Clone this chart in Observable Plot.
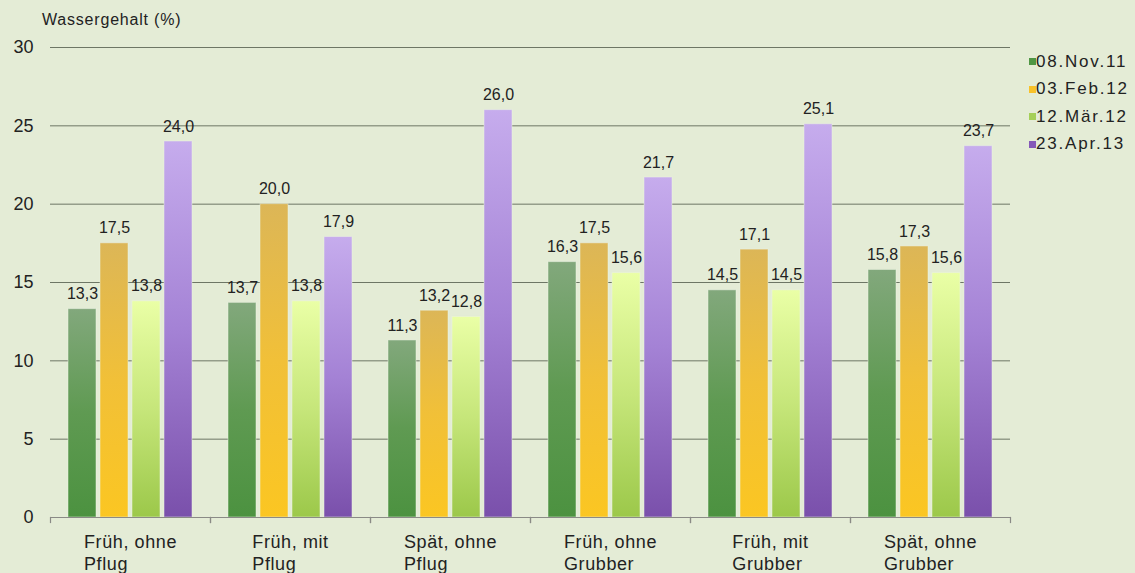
<!DOCTYPE html>
<html>
<head>
<meta charset="utf-8">
<script src="https://cdn.jsdelivr.net/npm/d3@7"></script>
<script src="https://cdn.jsdelivr.net/npm/@observablehq/plot@0.6"></script>
<style>
  html, body { margin: 0; padding: 0; background: #e4ecd6; }
  #wrap { position: relative; width: 1135px; height: 573px; background: #e4ecd6; font-family: "Liberation Sans", Arial, sans-serif; color: #222; overflow: hidden; }
  #title { position: absolute; left: 42px; top: 11px; font-size: 16px; letter-spacing: 0.8px; }
  #legend { position: absolute; left: 1029px; top: 48px; }
  .item { height: 27.5px; display: flex; align-items: center; font-size: 17px; letter-spacing: 1.8px; }
  .sw { width: 7px; height: 7px; margin-right: 0px; flex: none; }
  #chart { position: absolute; left: 0; top: 0; }
</style>
</head>
<body>
<div id="wrap">
  <div id="chart"></div>
  <div id="title">Wassergehalt (%)</div>
  <div id="legend"></div>
</div>
<script>
const groups = ["Früh, ohne\nPflug", "Früh, mit\nPflug", "Spät, ohne\nPflug", "Früh, ohne\nGrubber", "Früh, mit\nGrubber", "Spät, ohne\nGrubber"];
const series = ["08.Nov.11", "03.Feb.12", "12.Mär.12", "23.Apr.13"];
const nov11 = [13.3, 13.7, 11.3, 16.3, 14.5, 15.8];
const feb12 = [17.5, 20.0, 13.2, 17.5, 17.1, 17.3];
const mar12 = [13.8, 13.8, 12.8, 15.6, 14.5, 15.6];
const apr13 = [24.0, 17.9, 26.0, 21.7, 25.1, 23.7];
const yTicks = [0, 5, 10, 15, 20, 25, 30];

const legendColors = ["#4f9644", "#f8c22a", "#a5cf58", "#8558b8"];
const gradients = [
  ["#82a87c", "#5f9a52", "#4c9240"],
  ["#dcb657", "#f1c038", "#fbc622"],
  ["#eaffa6", "#c6e67a", "#9cc84a"],
  ["#c6aced", "#a482d5", "#7a50ab"]
];

const values = [nov11, feb12, mar12, apr13];
const data = [];
groups.forEach((g, gi) => series.forEach((s, si) => data.push({group: g, series: s, value: values[si][gi]})));

const fmt = v => v.toFixed(1).replace(".", ",");
const axisColor = "#8a8a86";

const chart = Plot.plot({
  width: 1135,
  height: 573,
  marginLeft: 50,
  marginRight: 125,
  marginTop: 47,
  marginBottom: 56,
  style: {background: "transparent", fontFamily: "'Liberation Sans', Arial, sans-serif", color: "#222", overflow: "visible"},
  fx: {domain: groups, padding: 0, label: null},
  x: {domain: series, paddingInner: 0.13, paddingOuter: 0.54, axis: null},
  y: {domain: [0, 30], label: null, axis: null},
  color: {domain: series, range: series.map((s, i) => `url(#grad${i})`)},
  marks: [
    Plot.ruleY(yTicks.filter(t => t > 0), {stroke: "#6d7665", strokeWidth: 1}),
    Plot.barY(data, {fx: "group", x: "series", y: "value", fill: "series", stroke: "#eef3e6", strokeOpacity: 0.5, strokeWidth: 1}),
    Plot.ruleY([0], {stroke: axisColor, strokeWidth: 1.2}),
    Plot.frame({anchor: "left", insetTop: 470, insetBottom: -5, stroke: axisColor, strokeWidth: 1.2}),
    Plot.frame({anchor: "right", insetTop: 470, insetBottom: -5, stroke: axisColor, strokeWidth: 1.2}),
    Plot.text(data, {fx: "group", x: "series", y: "value", text: d => fmt(d.value), dy: -15, fontSize: 16, fill: "#222"}),
    Plot.axisY({ticks: yTicks, tickSize: 0, tickPadding: 17, fontSize: 18, label: null, fill: "#222"}),
    Plot.axisFx({anchor: "bottom", tickSize: 0, tickPadding: 15, fontSize: 18, lineHeight: 1.22, label: null, fill: "#222"})
  ]
});

document.getElementById("chart").appendChild(chart);

// gradients
const svg = d3.select(chart.tagName.toLowerCase() === "svg" ? chart : chart.querySelector("svg"));
const defs = svg.insert("defs", ":first-child");
gradients.forEach((stops, i) => {
  const lg = defs.append("linearGradient").attr("id", `grad${i}`).attr("x1", 0).attr("y1", 0).attr("x2", 0).attr("y2", 1);
  stops.forEach((c, j) => lg.append("stop").attr("offset", j / (stops.length - 1)).attr("stop-color", c));
});

// left-align the lines of each category label inside a centered block
svg.selectAll("[aria-label='fx-axis tick label'] text").each(function() {
  this.style.letterSpacing = "0.6px";
  const before = this.getBBox();
  this.setAttribute("text-anchor", "start");
  this.querySelectorAll("tspan").forEach(t => t.setAttribute("text-anchor", "start"));
  const after = this.getBBox();
  const tr = this.getAttribute("transform") || "";
  this.setAttribute("transform", `${tr} translate(${before.x - after.x},0)`);
});

// legend
const legend = d3.select("#legend");
series.forEach((s, i) => {
  const it = legend.append("div").attr("class", "item");
  it.append("div").attr("class", "sw").style("background", legendColors[i]);
  it.append("span").text(s);
});
</script>
</body>
</html>
